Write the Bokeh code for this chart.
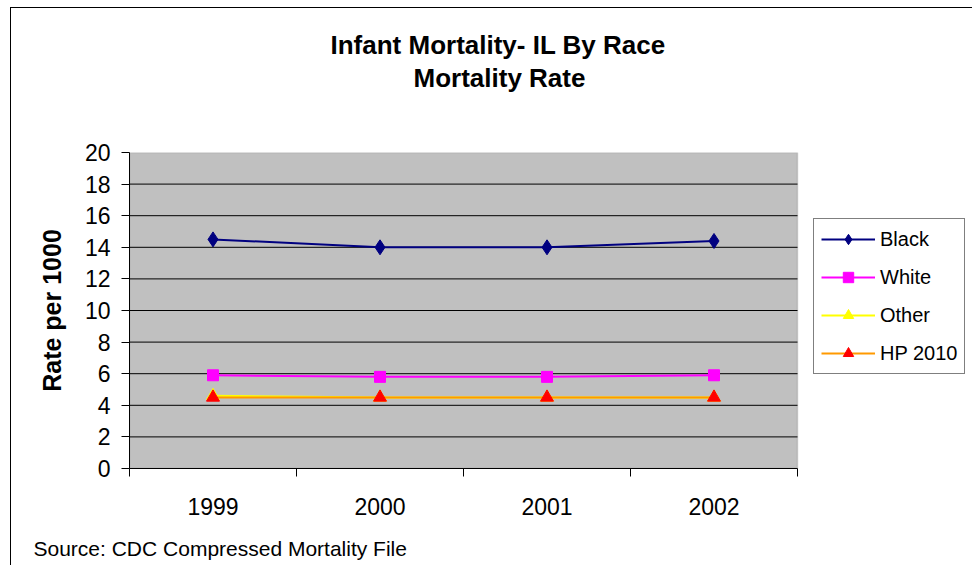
from bokeh.plotting import figure
from bokeh.models import (Range1d, FixedTicker, Legend, LegendItem, Title, ColumnDataSource, BoxAnnotation)
from bokeh.embed import file_html
from bokeh.resources import INLINE

years = ["1999", "2000", "2001", "2002"]
black = [14.5, 14.0, 14.0, 14.4]
white = [5.9, 5.8, 5.8, 5.9]
other = [4.6, 4.5, 4.5, 4.5]
hp2010 = [4.5, 4.5, 4.5, 4.5]
y_ticks = [0, 2, 4, 6, 8, 10, 12, 14, 16, 18, 20]

title_line1 = "Infant Mortality- IL By Race"
title_line2 = "Mortality Rate"
source_note = "Source: CDC Compressed Mortality File"

FONT = "Liberation Sans"
n = len(years)
xs = [i + 0.5 for i in range(n)]

PLOT_W = 668          # width of the grey plot area in px
FRAME_W = 839         # frame also holds the legend to its right
x_end = n * FRAME_W / PLOT_W

p = figure(frame_width=FRAME_W, frame_height=316, output_backend="svg", toolbar_location=None,
           x_range=Range1d(0, x_end), y_range=Range1d(0, 20),
           min_border_left=118, min_border_top=144, min_border_right=4, min_border_bottom=97)
p.styles = {"margin-left": "10px", "margin-top": "7px",
            "border-left": "1px solid #000000", "border-top": "1px solid #000000"}
p.background_fill_color = "#FFFFFF"
p.border_fill_color = "#FFFFFF"
p.outline_line_color = None
p.xgrid.visible = False
p.ygrid.visible = False

# grey plot area
p.add_layout(BoxAnnotation(left=0, right=n, bottom=y_ticks[0], top=y_ticks[-1],
                           fill_color="#C0C0C0", fill_alpha=1.0,
                           line_color="#808080", line_width=1.5, level="underlay"))
# horizontal gridlines across the plot area only
p.segment(x0=[0] * (len(y_ticks) - 2), x1=[n] * (len(y_ticks) - 2),
          y0=y_ticks[1:-1], y1=y_ticks[1:-1], line_color="#000000", line_width=1)

# titles (stacked outward from the plot area)
p.title.visible = False
p.add_layout(Title(text=" ", align="left", standoff=28,
                   text_font=FONT, text_font_size="26px"), "above")
p.add_layout(Title(text=title_line2, align="left", offset=284, standoff=0,
                   text_font=FONT, text_font_size="26px", text_font_style="bold",
                   text_color="#000000"), "above")
p.add_layout(Title(text=title_line1, align="left", offset=201, standoff=1,
                   text_font=FONT, text_font_size="26px", text_font_style="bold",
                   text_color="#000000"), "above")

# source note (after a small spacer below the axis)
p.add_layout(Title(text=" ", align="left", standoff=5,
                   text_font=FONT, text_font_size="4px"), "below")
p.add_layout(Title(text=source_note, align="left", offset=-96, standoff=10,
                   text_font=FONT, text_font_size="21px", text_font_style="normal",
                   text_color="#000000"), "below")

# x axis
xa = p.xaxis[0]
xa.bounds = (0, n)
xa.ticker = FixedTicker(ticks=xs, minor_ticks=list(range(n + 1)))
xa.major_label_overrides = {x: y for x, y in zip(xs, years)}
xa.major_tick_out = 0
xa.major_tick_in = 0
xa.minor_tick_out = 8
xa.minor_tick_in = 0
xa.minor_tick_line_color = "#000000"
xa.axis_line_color = "#000000"
xa.major_label_text_font = FONT
xa.major_label_text_font_size = "23px"
xa.major_label_text_color = "#000000"
xa.major_label_standoff = 21

# y axis
ya = p.yaxis[0]
ya.ticker = FixedTicker(ticks=y_ticks)
ya.minor_tick_line_color = None
ya.major_tick_out = 8
ya.major_tick_in = 0
ya.major_tick_line_color = "#000000"
ya.axis_line_color = "#000000"
ya.major_label_text_font = FONT
ya.major_label_text_font_size = "23px"
ya.major_label_text_color = "#000000"
ya.major_label_standoff = 11
ya.axis_label = "Rate per 1000"
ya.axis_label_text_font = FONT
ya.axis_label_text_font_size = "25px"
ya.axis_label_text_font_style = "bold"
ya.axis_label_text_color = "#000000"
ya.axis_label_standoff = 16

series = [
    ("Black", black, "#000080", "#000080", "diamond", 15),
    ("White", white, "#FF00FF", "#FF00FF", "square", 11),
    ("Other", other, "#FFFF00", "#FFFF00", "triangle", 13),
    ("HP 2010", hp2010, "#FF9900", "#FF0000", "triangle", 13),
]
items = []
for name, vals, lc, mc, marker, size in series:
    src = ColumnDataSource(dict(x=xs, y=vals))
    r1 = p.line("x", "y", source=src, line_color=lc, line_width=2)
    r2 = p.scatter("x", "y", source=src, marker=marker, size=size,
                   fill_color=mc, line_color=mc)
    items.append(LegendItem(label=name, renderers=[r1, r2]))

legend = Legend(items=items, location=(684, 94), orientation="vertical")
legend.border_line_color = "#000000"
legend.border_line_width = 1
legend.background_fill_color = "#FFFFFF"
legend.label_text_font = FONT
legend.label_text_font_size = "20px"
legend.label_text_color = "#000000"
legend.glyph_width = 54
legend.glyph_height = 26
legend.label_height = 26
legend.spacing = 12
legend.padding = 7
legend.margin = 0
legend.label_standoff = 5
p.add_layout(legend)

open("out.html", "w").write(file_html(p, INLINE))
